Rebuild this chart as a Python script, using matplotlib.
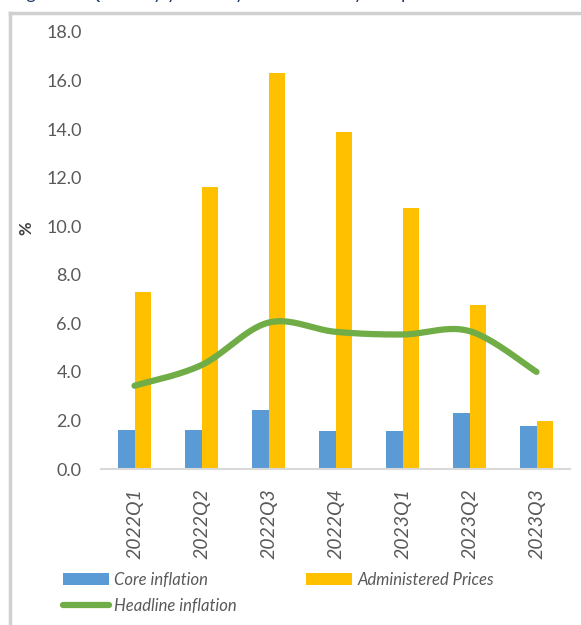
import numpy as np
import matplotlib.pyplot as plt
from matplotlib.lines import Line2D

plt.rcParams['font.family'] = ['Lato', 'DejaVu Sans']

# Quarterly inflation components, %
quarters = ['2022Q1', '2022Q2', '2022Q3', '2022Q4', '2023Q1', '2023Q2', '2023Q3']
core = [1.6, 1.6, 2.43, 1.56, 1.57, 2.3, 1.78]
administered = [7.3, 11.6, 16.3, 13.9, 10.75, 6.75, 1.98]
headline = [3.43, 4.28, 6.03, 5.65, 5.54, 5.68, 4.0]


def smooth_line(xs, ys, n=40):
    # Bezier segments through every point, like a spreadsheet "smoothed line"
    p = np.column_stack([xs, ys]).astype(float)
    out = []
    for i in range(len(p) - 1):
        p0 = p[i - 1] if i > 0 else p[i]
        p1, p2 = p[i], p[i + 1]
        p3 = p[i + 2] if i + 2 < len(p) else p[i + 1]
        c1 = p1 + (p2 - p0) / 6
        c2 = p2 - (p3 - p1) / 6
        t = np.linspace(0, 1, n)[:, None]
        seg = ((1 - t) ** 3) * p1 + 3 * ((1 - t) ** 2) * t * c1 + 3 * (1 - t) * t ** 2 * c2 + t ** 3 * p2
        out.append(seg if i == 0 else seg[1:])
    out = np.vstack(out)
    return out[:, 0], out[:, 1]


fig = plt.figure(figsize=(5.81, 6.25), dpi=100)
ax = fig.add_axes([101 / 581, 156 / 625, 469 / 581, 437 / 625])

x = np.arange(len(quarters))
w = 0.24
ax.bar(x - w / 2, core, w, color='#5b9bd5', label='Core inflation', zorder=2)
ax.bar(x + w / 2, administered, w, color='#ffc000', label='Administered Prices', zorder=2)
sx, sy = smooth_line(x, headline)
ax.plot(sx, sy, color='#70ad47', lw=4.5, solid_capstyle='round', label='Headline inflation', zorder=3)

ax.set_xlim(-0.5, len(quarters) - 0.5)
ax.set_ylim(0, 18)
ax.set_yticks(np.arange(0, 18.1, 2))
ax.set_yticklabels([f'{v:.1f}' for v in np.arange(0, 18.1, 2)])
ax.set_xticks(x)
ax.set_xticklabels(quarters, rotation=90, fontstyle='italic')
ax.tick_params(axis='both', length=0, labelsize=13, labelcolor='#595959')
ax.tick_params(axis='y', pad=14)
ax.tick_params(axis='x', pad=14, labelsize=14)

for side in ['top', 'right', 'left']:
    ax.spines[side].set_visible(False)
ax.spines['bottom'].set_color('#d9d9d9')
ax.spines['bottom'].set_linewidth(1.5)

ax.set_ylabel('%', fontsize=12, fontweight='bold', color='#404040')
ax.yaxis.set_label_coords(-0.143, 0.55)

# legend: core / admin on the first row, headline below
h, l = ax.get_legend_handles_labels()
order = [1, 0, 2]
fig.legend([h[i] for i in order], [l[i] for i in order], ncol=2,
           loc='upper left', bbox_to_anchor=(63 / 581, 1 - 572 / 625),
           frameon=False, prop={'size': 12, 'style': 'italic'},
           labelcolor='#595959', handlelength=2.75, handleheight=0.7,
           handletextpad=0.3, columnspacing=4.2, labelspacing=0.6,
           borderaxespad=0, borderpad=0)

# chart frame
fig.add_artist(Line2D([10 / 581, 10 / 581], [0, 1 - 13 / 625], color='#d0d0d0', lw=2.5,
                      transform=fig.transFigure))
fig.add_artist(Line2D([10 / 581, 1], [1 - 13 / 625, 1 - 13 / 625], color='#d0d0d0', lw=2.5,
                      transform=fig.transFigure))

fig.text(12 / 581, 1 + 1.5 / 625, 'Figure 2: Quarterly year-on-year inflation by component',
         va='baseline', ha='left', fontsize=13, color='#1f3864')

fig.savefig('out.png', dpi=100)
